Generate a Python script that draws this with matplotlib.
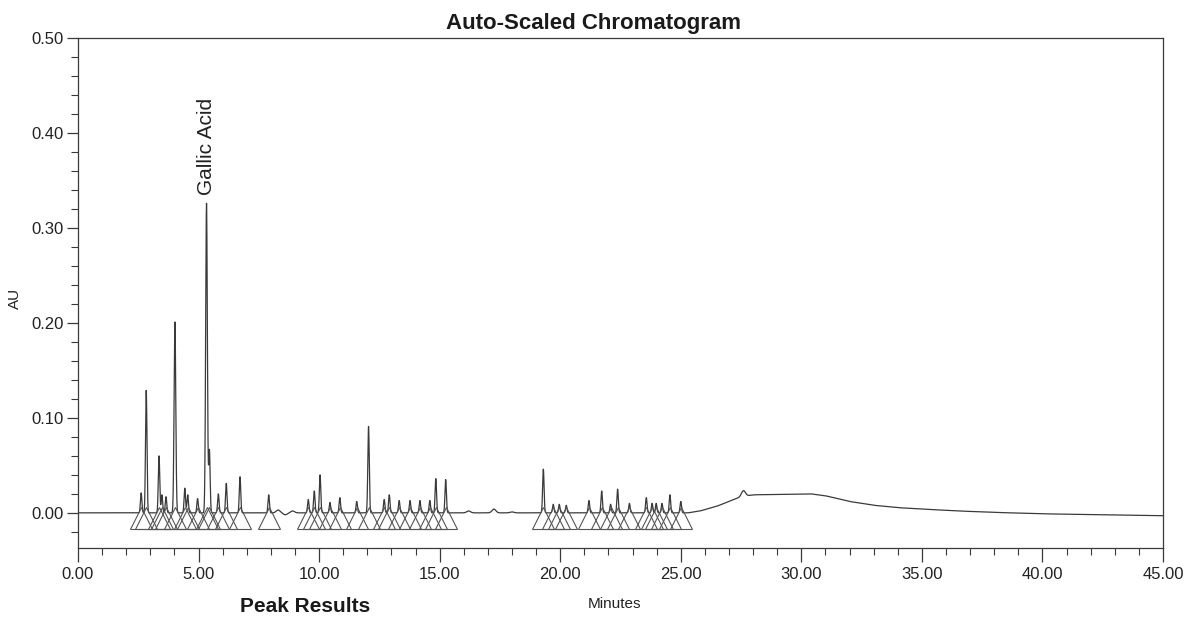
import numpy as np
import matplotlib
matplotlib.use("Agg")
import matplotlib.pyplot as plt
from matplotlib.ticker import MultipleLocator, FormatStrFormatter

# ---- data ----
peak_times = [2.62, 2.83, 3.36, 3.48, 3.65, 4.02, 4.43, 4.55, 4.96, 5.33, 5.45, 5.82,
              6.15, 6.72, 7.91, 9.55, 9.80, 10.04, 10.45, 10.86, 11.56, 12.05, 12.70,
              12.91, 13.32, 13.77, 14.18, 14.59, 14.84, 15.25, 19.30, 19.71, 19.96,
              20.25, 21.19, 21.72, 22.09, 22.38, 22.87, 23.57, 23.81, 23.98, 24.22,
              24.55, 25.00]
peak_heights = [0.021, 0.129, 0.060, 0.019, 0.017, 0.201, 0.026, 0.019, 0.015, 0.326,
                0.066, 0.020, 0.031, 0.038, 0.019, 0.014, 0.023, 0.040, 0.011, 0.016,
                0.012, 0.091, 0.014, 0.019, 0.013, 0.013, 0.013, 0.013, 0.036, 0.035,
                0.046, 0.009, 0.009, 0.008, 0.013, 0.023, 0.009, 0.025, 0.010, 0.016,
                0.010, 0.010, 0.010, 0.019, 0.012]
bump_times = [8.3, 8.6, 8.9, 16.2, 17.25, 18.0, 27.6]
bump_heights = [0.003, -0.002, 0.002, 0.002, 0.004, 0.001, 0.006]
baseline_t = [0.0, 25.3, 25.8, 26.5, 27.0, 27.5, 28.0, 30.4, 31.0, 32.0, 33.0, 34.0,
              35.0, 36.5, 38.0, 40.0, 45.0]
baseline_v = [0.0, 0.0, 0.002, 0.007, 0.012, 0.017, 0.019, 0.020, 0.018, 0.012, 0.008,
              0.0055, 0.004, 0.002, 0.0005, -0.001, -0.003]
labelled_peak = ("Gallic Acid", 5.33, 0.326)

x_ticks = [0, 5, 10, 15, 20, 25, 30, 35, 40, 45]
y_ticks = [0.0, 0.1, 0.2, 0.3, 0.4, 0.5]

# ---- build trace ----
t = np.linspace(0, 45, 18001)
base = np.interp(t, baseline_t, baseline_v)
signal = base.copy()
for pt, ph in zip(peak_times, peak_heights):
    sig = 0.035 if ph > 0.15 else 0.03
    signal += ph * np.exp(-0.5 * ((t - pt) / sig) ** 2)
for bt, bh in zip(bump_times, bump_heights):
    signal += bh * np.exp(-0.5 * ((t - bt) / 0.08) ** 2)

plt.rcParams['font.family'] = ['Liberation Sans', 'DejaVu Sans']
fig = plt.figure(figsize=(11.87, 6.17), dpi=100)
ax = fig.add_axes([78 / 1187, 1 - 548 / 617, (1163 - 78) / 1187, (548 - 38) / 617])

line_col = '#3a3a3a'
ax.plot(t, signal, color=line_col, lw=0.9)

# integration triangles
tri_y = np.interp(peak_times, baseline_t, baseline_v) - 0.005
ax.plot(peak_times, tri_y, ls='none', marker='^', markersize=16,
        mfc='none', mec='#555555', mew=0.8)

ax.set_xlim(0, 45)
ax.set_ylim(-0.037, 0.50)

ax.xaxis.set_major_locator(MultipleLocator(5))
ax.xaxis.set_minor_locator(MultipleLocator(1))
ax.yaxis.set_major_locator(MultipleLocator(0.1))
ax.yaxis.set_minor_locator(MultipleLocator(0.02))
ax.set_xticks(x_ticks)
ax.set_yticks(y_ticks)
ax.xaxis.set_major_formatter(FormatStrFormatter('%.2f'))
ax.yaxis.set_major_formatter(FormatStrFormatter('%.2f'))
ax.tick_params(axis='both', which='major', direction='out', length=10, width=0.9,
               color=line_col, labelsize=12, labelcolor='#222222')
ax.tick_params(axis='both', which='minor', direction='out', length=5, width=0.8,
               color=line_col)
ax.tick_params(axis='y', which='major', length=8, pad=2)
ax.tick_params(axis='x', which='major', pad=4)
for s in ax.spines.values():
    s.set_color(line_col)
    s.set_linewidth(0.9)

ax.set_ylabel('AU', fontsize=11, color='#222222')
ax.yaxis.set_label_coords(-0.052, 0.49)
fig.text(615 / 1187, 1 - 604 / 617, 'Minutes', fontsize=11, ha='center',
         va='center', color='#222222')
fig.text(593 / 1187, 1 - 24 / 617, 'Auto-Scaled Chromatogram', fontsize=16,
         fontweight='bold', ha='center', va='center', color='#1a1a1a')
fig.text(305 / 1187, 1 - 606 / 617, 'Peak Results', fontsize=15,
         fontweight='bold', ha='center', va='center', color='#1a1a1a')

name, pt, ph = labelled_peak
ax.annotate(name, xy=(pt, ph), xytext=(0, 6), textcoords='offset points',
            rotation=90, ha='center', va='bottom', fontsize=15, color='#222222')

fig.savefig('out.png', dpi=100, facecolor='white')
